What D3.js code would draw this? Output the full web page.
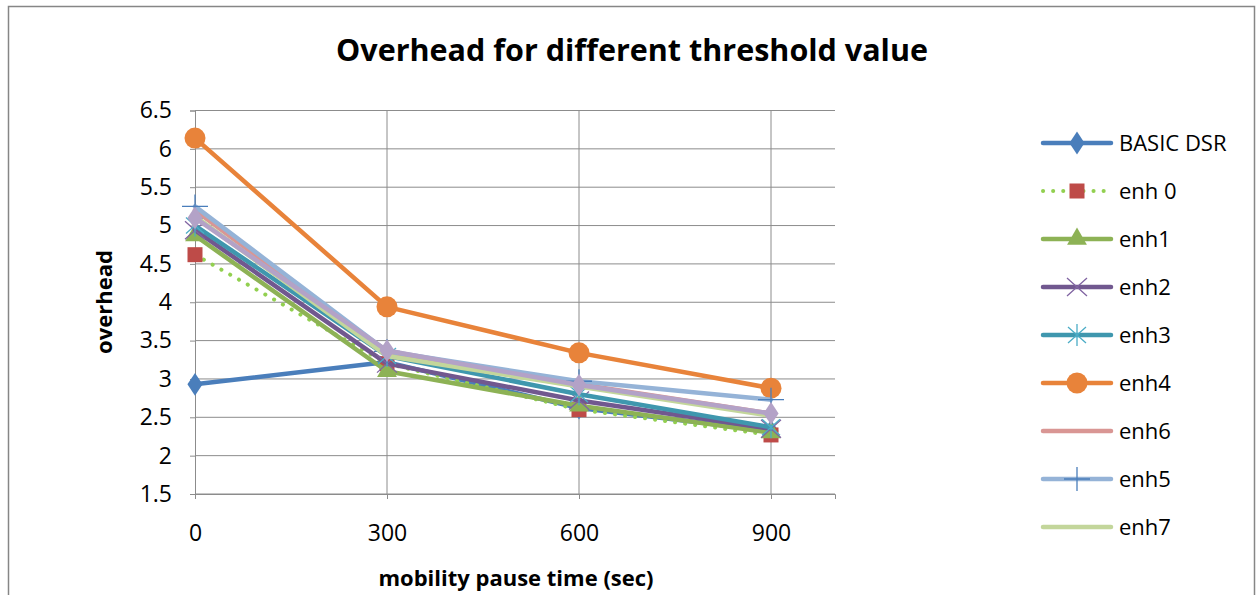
<!DOCTYPE html>
<html>
<head>
<meta charset="utf-8">
<script src="https://cdn.jsdelivr.net/npm/d3@7"></script>
<style>
  body { margin: 0; background: #fff; }
  text { font-family: "Open Sans", "DejaVu Sans", sans-serif; fill: #000; }
</style>
</head>
<body>
<svg id="chart" width="1257" height="595"></svg>
<script>
// data
var pauseTimes = [0, 300, 600, 900];
var yTicks = [1.5, 2, 2.5, 3, 3.5, 4, 4.5, 5, 5.5, 6, 6.5];
var basicDsr = [2.93, 3.22, 2.62, 2.32];
var enh0 = [4.62, 3.2, 2.6, 2.27];
var enh1 = [4.87, 3.1, 2.65, 2.3];
var enh2 = [4.94, 3.2, 2.72, 2.35];
var enh3 = [5.0, 3.3, 2.8, 2.37];
var enh4 = [6.14, 3.94, 3.34, 2.88];
var enh6 = [5.2, 3.33, 2.93, 2.55];
var enh5 = [5.25, 3.36, 2.97, 2.73];
var enh7 = [5.12, 3.3, 2.9, 2.52];
var enh8 = [5.1, 3.37, 2.92, 2.55];

var series = [
  {name: "BASIC DSR", values: basicDsr, color: "#4A7EBB", marker: "diamond", mcolor: "#4A7EBB"},
  {name: "enh 0", values: enh0, color: "#92D050", marker: "square", mcolor: "#BE4B48", dotted: true},
  {name: "enh1", values: enh1, color: "#8DB255", marker: "triangle", mcolor: "#8DB255"},
  {name: "enh2", values: enh2, color: "#71588F", marker: "x", mcolor: "#8064A2"},
  {name: "enh3", values: enh3, color: "#3F97AE", marker: "star", mcolor: "#4BACC6"},
  {name: "enh4", values: enh4, color: "#E8833A", marker: "circle", mcolor: "#E8833A"},
  {name: "enh6", values: enh6, color: "#D99694", marker: null},
  {name: "enh5", values: enh5, color: "#95B3D7", marker: "plus", mcolor: "#4A7EBB"},
  {name: "enh7", values: enh7, color: "#C3D69B", marker: null},
  {name: "enh8", values: enh8, color: "#B3A2C7", marker: "diamond", mcolor: "#B3A2C7", noLegend: true}
];

var svg = d3.select("#chart");

// chart frame
svg.append("rect").attr("x", 8.5).attr("y", 6.5).attr("width", 1246).attr("height", 600)
  .attr("fill", "#fff").attr("stroke", "#868686").attr("stroke-width", 1.5);

var x = d3.scaleLinear().domain([0, 1000]).range([195, 835]);
var y = d3.scaleLinear().domain([1.5, 6.5]).range([494, 110.5]);

// horizontal gridlines
svg.append("g").selectAll("line").data(yTicks).join("line")
  .attr("x1", x(0)).attr("x2", x(1000))
  .attr("y1", d => y(d)).attr("y2", d => y(d))
  .attr("stroke", "#8c8c8c").attr("stroke-width", 1);

// vertical gridlines
svg.append("g").selectAll("line").data(pauseTimes.slice(1)).join("line")
  .attr("x1", d => x(d)).attr("x2", d => x(d))
  .attr("y1", y(6.5)).attr("y2", y(1.5))
  .attr("stroke", "#8c8c8c").attr("stroke-width", 1);

// axes
var yAxis = svg.append("g").attr("transform", "translate(" + x(0) + ",0)")
  .call(d3.axisLeft(y).tickValues(yTicks).tickSize(5).tickPadding(18).tickFormat(d3.format("")));
var xAxis = svg.append("g").attr("transform", "translate(0," + y(1.5) + ")")
  .call(d3.axisBottom(x).tickValues(pauseTimes).tickSize(5).tickPadding(26));
[yAxis, xAxis].forEach(function(a) {
  a.selectAll("path").attr("stroke", "#8c8c8c");
  a.selectAll("line").attr("stroke", "#8c8c8c");
  a.selectAll("text").style("font-size", "23px").attr("fill", "#000");
});

// titles
svg.append("text").attr("x", 632).attr("y", 61).attr("text-anchor", "middle")
  .style("font-size", "30.5px").style("font-weight", "bold").text("Overhead for different threshold value");
svg.append("text").attr("transform", "translate(112,302) rotate(-90)").attr("text-anchor", "middle")
  .style("font-size", "22px").style("font-weight", "bold").text("overhead");
svg.append("text").attr("x", 516).attr("y", 586).attr("text-anchor", "middle")
  .style("font-size", "22px").style("font-weight", "bold").text("mobility pause time (sec)");

function drawMarker(g, s, cx, cy) {
  if (!s.marker) return;
  var c = s.mcolor;
  if (s.marker === "diamond") {
    g.append("path").attr("d", d3.symbol(d3.symbolDiamond, 150)()).attr("transform", "translate(" + cx + "," + cy + ") scale(1.15,1)").attr("fill", c);
  } else if (s.marker === "square") {
    g.append("rect").attr("x", cx - 7.5).attr("y", cy - 7.5).attr("width", 15).attr("height", 15).attr("fill", c);
  } else if (s.marker === "triangle") {
    g.append("path").attr("d", d3.symbol(d3.symbolTriangle, 170)()).attr("transform", "translate(" + cx + "," + cy + ")").attr("fill", c);
  } else if (s.marker === "circle") {
    g.append("circle").attr("cx", cx).attr("cy", cy).attr("r", 10.5).attr("fill", c);
  } else if (s.marker === "x") {
    g.append("path").attr("d", "M-10,-9L10,9M-10,9L10,-9").attr("transform", "translate(" + cx + "," + cy + ")").attr("stroke", c).attr("stroke-width", 1.3).attr("fill", "none");
  } else if (s.marker === "star") {
    g.append("path").attr("d", "M-9,-8L9,8M-9,8L9,-8M0,-11V11").attr("transform", "translate(" + cx + "," + cy + ")").attr("stroke", c).attr("stroke-width", 1.3).attr("fill", "none");
  } else if (s.marker === "plus") {
    g.append("path").attr("d", "M-13,0H13M0,-12V12").attr("transform", "translate(" + cx + "," + cy + ")").attr("stroke", c).attr("stroke-width", 1.3).attr("fill", "none");
  }
}

var line = d3.line().x((d, i) => x(pauseTimes[i])).y(d => y(d));

series.forEach(function(s) {
  var g = svg.append("g");
  g.append("path").datum(s.values).attr("d", line).attr("fill", "none")
    .attr("stroke", s.color).attr("stroke-width", s.dotted ? 4 : 4.5)
    .attr("stroke-linecap", "round").attr("stroke-linejoin", "round")
    .attr("stroke-dasharray", s.dotted ? "0.1,10" : null);
  s.values.forEach(function(v, i) { drawMarker(g, s, x(pauseTimes[i]), y(v)); });
});

// legend
var legend = svg.append("g");
series.filter(s => !s.noLegend).forEach(function(s, i) {
  var ly = 143 + i * 48;
  var g = legend.append("g");
  g.append("line").attr("x1", 1043).attr("x2", 1111).attr("y1", ly).attr("y2", ly)
    .attr("stroke", s.color).attr("stroke-width", s.dotted ? 4 : 4.5).attr("stroke-linecap", "round")
    .attr("stroke-dasharray", s.dotted ? "0.1,10" : null);
  drawMarker(g, s, 1077, ly);
  g.append("text").attr("x", 1119).attr("y", ly + 8).style("font-size", "22px").text(s.name);
});
</script>
</body>
</html>
